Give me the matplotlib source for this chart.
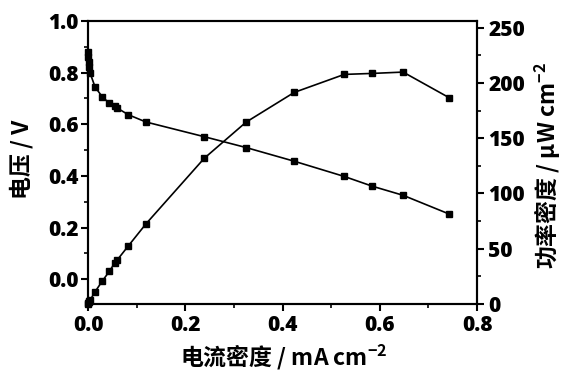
import numpy as np
import matplotlib
matplotlib.use("Agg")
import matplotlib.pyplot as plt
from matplotlib.ticker import MultipleLocator

plt.rcParams['font.family'] = ['Noto Sans CJK SC', 'DejaVu Sans']
plt.rcParams['font.weight'] = 'bold'
plt.rcParams['mathtext.fontset'] = 'custom'
plt.rcParams['mathtext.rm'] = 'Noto Sans CJK SC:bold'
plt.rcParams['mathtext.bf'] = 'Noto Sans CJK SC:bold'

# current density (mA cm-2)
current = [0.0, 0.001, 0.002, 0.003, 0.004, 0.0144, 0.0294, 0.0438, 0.0555, 0.060,
           0.083, 0.119, 0.239, 0.325, 0.424, 0.527, 0.585, 0.648, 0.742]
# voltage (V)
voltage = [0.88, 0.86, 0.84, 0.82, 0.80, 0.745, 0.706, 0.682, 0.669, 0.663,
           0.637, 0.609, 0.552, 0.510, 0.457, 0.398, 0.360, 0.325, 0.253]
# power density (uW cm-2)
power = [0.0, 0.9, 1.7, 2.5, 3.3, 11.0, 20.8, 29.5, 37.5, 39.8,
         52.6, 72.4, 131.8, 164.5, 191.4, 207.7, 208.6, 209.8, 186.8]

tick_font = ['Open Sans', 'Noto Sans CJK SC']

fig = plt.figure(figsize=(5.66, 3.72), dpi=100)
ax = fig.add_axes([0.1555, 0.1828, 0.6873, 0.7607])
ax2 = ax.twinx()

ax.plot(current, voltage, color="black", lw=1.2, marker="s", ms=5, clip_on=False)
ax2.plot(current, power, color="black", lw=1.2, marker="s", ms=5, clip_on=False)

ax.set_xlim(0, 0.8)
ax.set_ylim(-0.096, 1.0)
ax2.set_ylim(0, 256)

ax.xaxis.set_major_locator(MultipleLocator(0.2))
ax.xaxis.set_minor_locator(MultipleLocator(0.1))
ax.yaxis.set_major_locator(MultipleLocator(0.2))
ax.yaxis.set_minor_locator(MultipleLocator(0.1))
ax2.yaxis.set_major_locator(MultipleLocator(50))
ax2.yaxis.set_minor_locator(MultipleLocator(25))

for a in (ax, ax2):
    for s in a.spines.values():
        s.set_linewidth(1.5)
    a.tick_params(which="major", direction="out", length=5, width=1.5, labelsize=15)
    a.tick_params(which="minor", direction="out", length=3, width=1.2)
    for lab in a.get_xticklabels() + a.get_yticklabels():
        lab.set_family(tick_font)
        lab.set_fontweight("heavy")
ax.tick_params(axis="y", pad=2)
ax2.tick_params(axis="y", pad=3)
ax.tick_params(axis="x", pad=3)

ax.set_xlabel("电流密度 / mA cm$^{-2}$", fontsize=16.5, fontweight="bold")
ax.set_ylabel("电压 / V", fontsize=16.5, fontweight="bold")
ax2.set_ylabel("功率密度 / μW cm$^{-2}$", fontsize=16.5, fontweight="bold")
for lab in (ax.xaxis.label, ax.yaxis.label, ax2.yaxis.label):
    lab.set_va("center")
    lab.set_ha("center")
ax.xaxis.set_label_coords(0.504, -0.19)
ax.yaxis.set_label_coords(-0.17, 0.51)
ax2.yaxis.set_label_coords(1.183, 0.49)

fig.savefig("out.png", dpi=100)
